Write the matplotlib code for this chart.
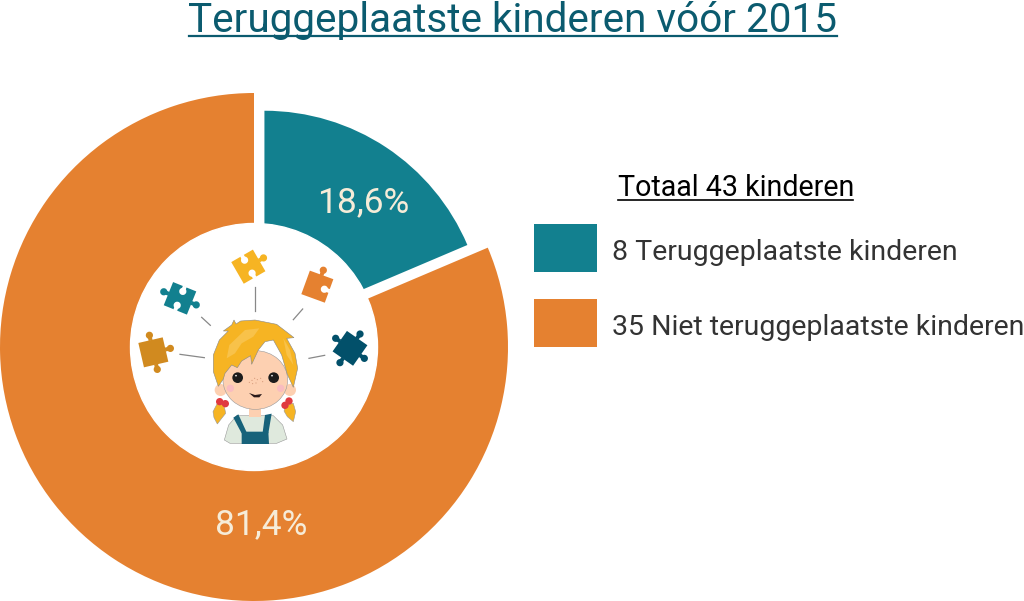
import matplotlib
matplotlib.use("Agg")
import matplotlib.pyplot as plt
from matplotlib.patches import Circle, Ellipse, Polygon, Rectangle
from matplotlib.transforms import Affine2D

plt.rcParams["font.family"] = ["Roboto", "DejaVu Sans"]

# Data
title = "Teruggeplaatste kinderen vóór 2015"
total_label = "Totaal 43 kinderen"
counts = [8, 35]
percent_labels = ["18,6%", "81,4%"]
legend_labels = ["8 Teruggeplaatste kinderen", "35 Niet teruggeplaatste kinderen"]
colors = ["#12808f", "#e58130"]

fig = plt.figure(figsize=(10.24, 6.01), dpi=100)

# donut, axes in pixels with y going up
ax_pie = fig.add_axes([0, 0, 1, 1])
wedges, _ = ax_pie.pie(
    counts,
    colors=colors,
    startangle=90,
    counterclock=False,
    radius=254,
    center=(254, 601 - 347),
    explode=[18.9, 0],
)
wedges[0].set_radius(220.5)
ax_pie.set_xlim(0, 1024)
ax_pie.set_ylim(0, 601)
ax_pie.set_aspect("auto")
ax_pie.axis("off")

# overlay with pixel coords, y going down
ax = fig.add_axes([0, 0, 1, 1])
ax.set_xlim(0, 1024)
ax.set_ylim(601, 0)
ax.axis("off")
ax.patch.set_alpha(0)

ax.add_patch(Circle((254, 347), 123.5, color="white", zorder=1))

# Title
ax.text(513, 32, title, ha="center", va="baseline", fontsize=29.2, color="#0b5b6f")
ax.plot([189, 837], [36, 36], color="#0b5b6f", lw=1.6)

# Percent labels
ax.text(363, 212, percent_labels[0], ha="center", va="baseline", fontsize=25.4, color="#f6ecd8")
ax.text(261, 534, percent_labels[1], ha="center", va="baseline", fontsize=25.4, color="#f6ecd8")

# Legend
ax.text(736, 196, total_label, ha="center", va="baseline", fontsize=20.6, color="black")
ax.plot([618, 853], [199.5, 199.5], color="black", lw=1.2)
for y0, col, lab in zip([224, 299], colors, legend_labels):
    ax.add_patch(Rectangle((534, y0), 63, 47.5, color=col, lw=0))
    ax.text(612, y0 + 36, lab, ha="left", va="baseline", fontsize=20.5, color="#333333")


def z(x, y):
    # position measured on the 3x crop of the centre picture
    return 130 + x / 3, 225 + y / 3


def poly(points, color, edge="none", lw=0.0, order=3):
    ax.add_patch(Polygon([z(*p) for p in points], closed=True, fc=color, ec=edge, lw=lw, zorder=order))


def disc(x, y, r, color, order=3):
    ax.add_patch(Circle(z(x, y), r / 3, fc=color, ec="none", zorder=order))


def puzzle(x, y, angle, color, knobs, notches):
    # one piece: square with round knobs and white notches
    cx, cy = z(x, y)
    side = 25
    rot = Affine2D().rotate_deg(angle).translate(cx, cy) + ax.transData
    ax.add_patch(Rectangle((-side / 2, -side / 2), side, side, fc=color, ec="none", transform=rot, zorder=3))
    dirs = {"t": (0, -1), "r": (1, 0), "b": (0, 1), "l": (-1, 0)}
    for k in knobs:
        dx, dy = dirs[k]
        mx, my = dx * (side / 2 + 1.5), dy * (side / 2 + 1.5)
        ax.add_patch(Rectangle((mx - 2, my - 2), 4, 4, fc=color, ec="none", transform=rot, zorder=3))
        ax.add_patch(Circle((dx * (side / 2 + 5), dy * (side / 2 + 5)), 3.6, fc=color, ec="none",
                            transform=rot, zorder=3))
    for k in notches:
        dx, dy = dirs[k]
        mx, my = dx * (side / 2 - 1.5), dy * (side / 2 - 1.5)
        ax.add_patch(Rectangle((mx - 2, my - 2), 4, 4, fc="white", ec="none", transform=rot, zorder=4))
        ax.add_patch(Circle((dx * (side / 2 - 5), dy * (side / 2 - 5)), 3.6, fc="white", ec="none",
                            transform=rot, zorder=4))


puzzle(70, 382, -13, "#d18a1f", "trb", "")
puzzle(150, 220, 22, "#12808f", "lr", "tb")
puzzle(355, 125, -30, "#f6b423", "r", "tb")
puzzle(562, 185, 20, "#e58130", "t", "r")
puzzle(660, 370, 35, "#02506a", "ltrb", "")

# rays between the pieces and the head
rays = [((150, 388), (223, 398)), ((215, 277), (241, 301)), ((375, 187), (375, 257)),
        ((518, 252), (490, 284)), ((537, 400), (584, 391))]
for a, b in rays:
    ax.plot(*zip(z(*a), z(*b)), color="#888888", lw=0.9, zorder=3)

# Girl
# shirt and overalls
poly([(283, 645), (296, 600), (320, 572), (430, 572), (458, 600), (471, 642), (440, 655), (300, 655)], "#dfe9dd", "#999999", 0.4)
poly([(358, 540), (392, 540), (392, 575), (358, 575)], "#fdd0b1", order=3)
poly([(335, 620), (415, 620), (417, 657), (335, 657)], "#17627a", order=4)
poly([(310, 578), (325, 568), (350, 622), (335, 625)], "#17627a", order=4)
poly([(405, 570), (425, 566), (415, 625), (398, 622)], "#17627a", order=4)
# ponytails
poly([(262, 535), (282, 540), (287, 565), (275, 580), (262, 597), (252, 578), (249, 560)], "#f6b423", "#999999", 0.4)
poly([(468, 540), (490, 535), (497, 560), (490, 590), (472, 575), (462, 558)], "#f6b423", "#999999", 0.4)
for px, py in [(269, 530), (286, 536), (477, 528), (465, 541)]:
    disc(px, py, 11, "#e0393f", order=5)
# ears and face
disc(272, 495, 18, "#fdd0b1", order=4)
disc(480, 495, 18, "#fdd0b1", order=4)
ax.add_patch(Ellipse(z(376, 465), 194 / 3, 176 / 3, fc="#fdd0b1", ec="#999999", lw=0.4, zorder=5))
disc(301, 490, 11, "#f9bcc0", order=6)
disc(452, 490, 11, "#f9bcc0", order=6)
# eyes
for ex in [323, 431]:
    disc(ex, 458, 16, "#1c1c1c", order=6)
    disc(ex - 5, 452, 2.5, "white", order=7)
# freckles
for fx, fy in [(358, 472), (366, 466), (374, 460), (382, 464), (392, 460), (398, 470), (378, 474), (368, 476)]:
    disc(fx, fy, 1.6, "#d09070", order=6)
# mouth
poly([(357, 504), (375, 510), (396, 507), (388, 517), (372, 517)], "#2a1a1a", order=6)
# hair
poly([(265, 484), (250, 440), (250, 390), (268, 345), (295, 318), (280, 318), (305, 300), (312, 285), (318, 297),
      (332, 288), (375, 285), (440, 298), (492, 338), (470, 340), (495, 385), (503, 430), (490, 487), (472, 448),
      (455, 390), (430, 345), (405, 350), (385, 375), (365, 418), (362, 392), (335, 408), (322, 428), (305, 420),
      (285, 445), (280, 462)], "#f6b423", "#888888", 0.4, order=6)
poly([(290, 400), (298, 360), (345, 315), (388, 310), (370, 335), (335, 355), (315, 385)], "#f8c24a", order=7)
poly([(460, 340), (480, 375), (490, 420), (470, 390)], "#f8c24a", order=7)

fig.savefig("out.png", dpi=100, facecolor="white")
